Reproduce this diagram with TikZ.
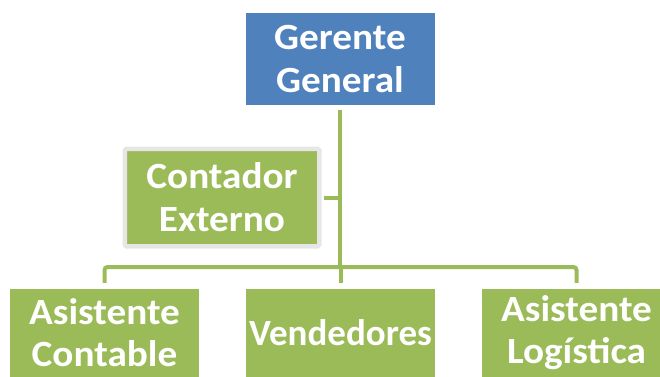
\documentclass[tikz,border=0pt]{standalone}
\usepackage{fontspec}
\setmainfont{Carlito}[FakeStretch=1.06]
\newfontfamily\estrecha{Carlito}
\usetikzlibrary{calc}
\definecolor{azulJefe}{HTML}{4F81BD}
\definecolor{verdeCargo}{HTML}{9BBB59}
\definecolor{grisBorde}{HTML}{E6E6E6}

\begin{document}
\begin{tikzpicture}[x=1pt,y=-1pt,
  cargo/.style={fill=verdeCargo, text=white, align=center, inner sep=0pt,
    minimum width=189, minimum height=92,
    font=\bfseries\fontsize{37}{43}\selectfont},
  jefe/.style={cargo, fill=azulJefe},
  externo/.style={cargo, draw=grisBorde, line width=4.5pt, rounded corners=1.5pt,
    minimum width=194.5, minimum height=97.5},
  abajo/.style={cargo, minimum height=88, font=\bfseries\fontsize{37}{42}\selectfont},
  linea/.style={draw=verdeCargo, line width=4pt}]
\useasboundingbox (0,0) rectangle (660,376);
\clip (0,0) rectangle (660,376);
% the boxes
\node[jefe] (gerente) at (340,59) {Gerente\\General};
\node[externo] (contador) at (222,197.5) {Contador\\Externo};
\node[abajo] (contable) at (104.5,333) {Asistente\\Contable};
\node[abajo] (vendedores) at (340.5,333) {\estrecha\bfseries Vendedores};
\node[abajo] (logistica) at (576.5,333) {Asistente\\Log\'istica};
% the lines
\coordinate (barra) at (340,267);
\draw[linea, shorten <=5pt] (gerente) -- (gerente |- barra);
\draw[linea, shorten <=2.25pt] (contador) -- (contador -| gerente);
\draw[linea, rounded corners=3pt, shorten <=6pt, shorten >=6pt]
  (contable) |- (barra) -| (logistica);
\draw[linea, shorten <=6pt] (vendedores) -- (vendedores |- barra);
\end{tikzpicture}
\end{document}
